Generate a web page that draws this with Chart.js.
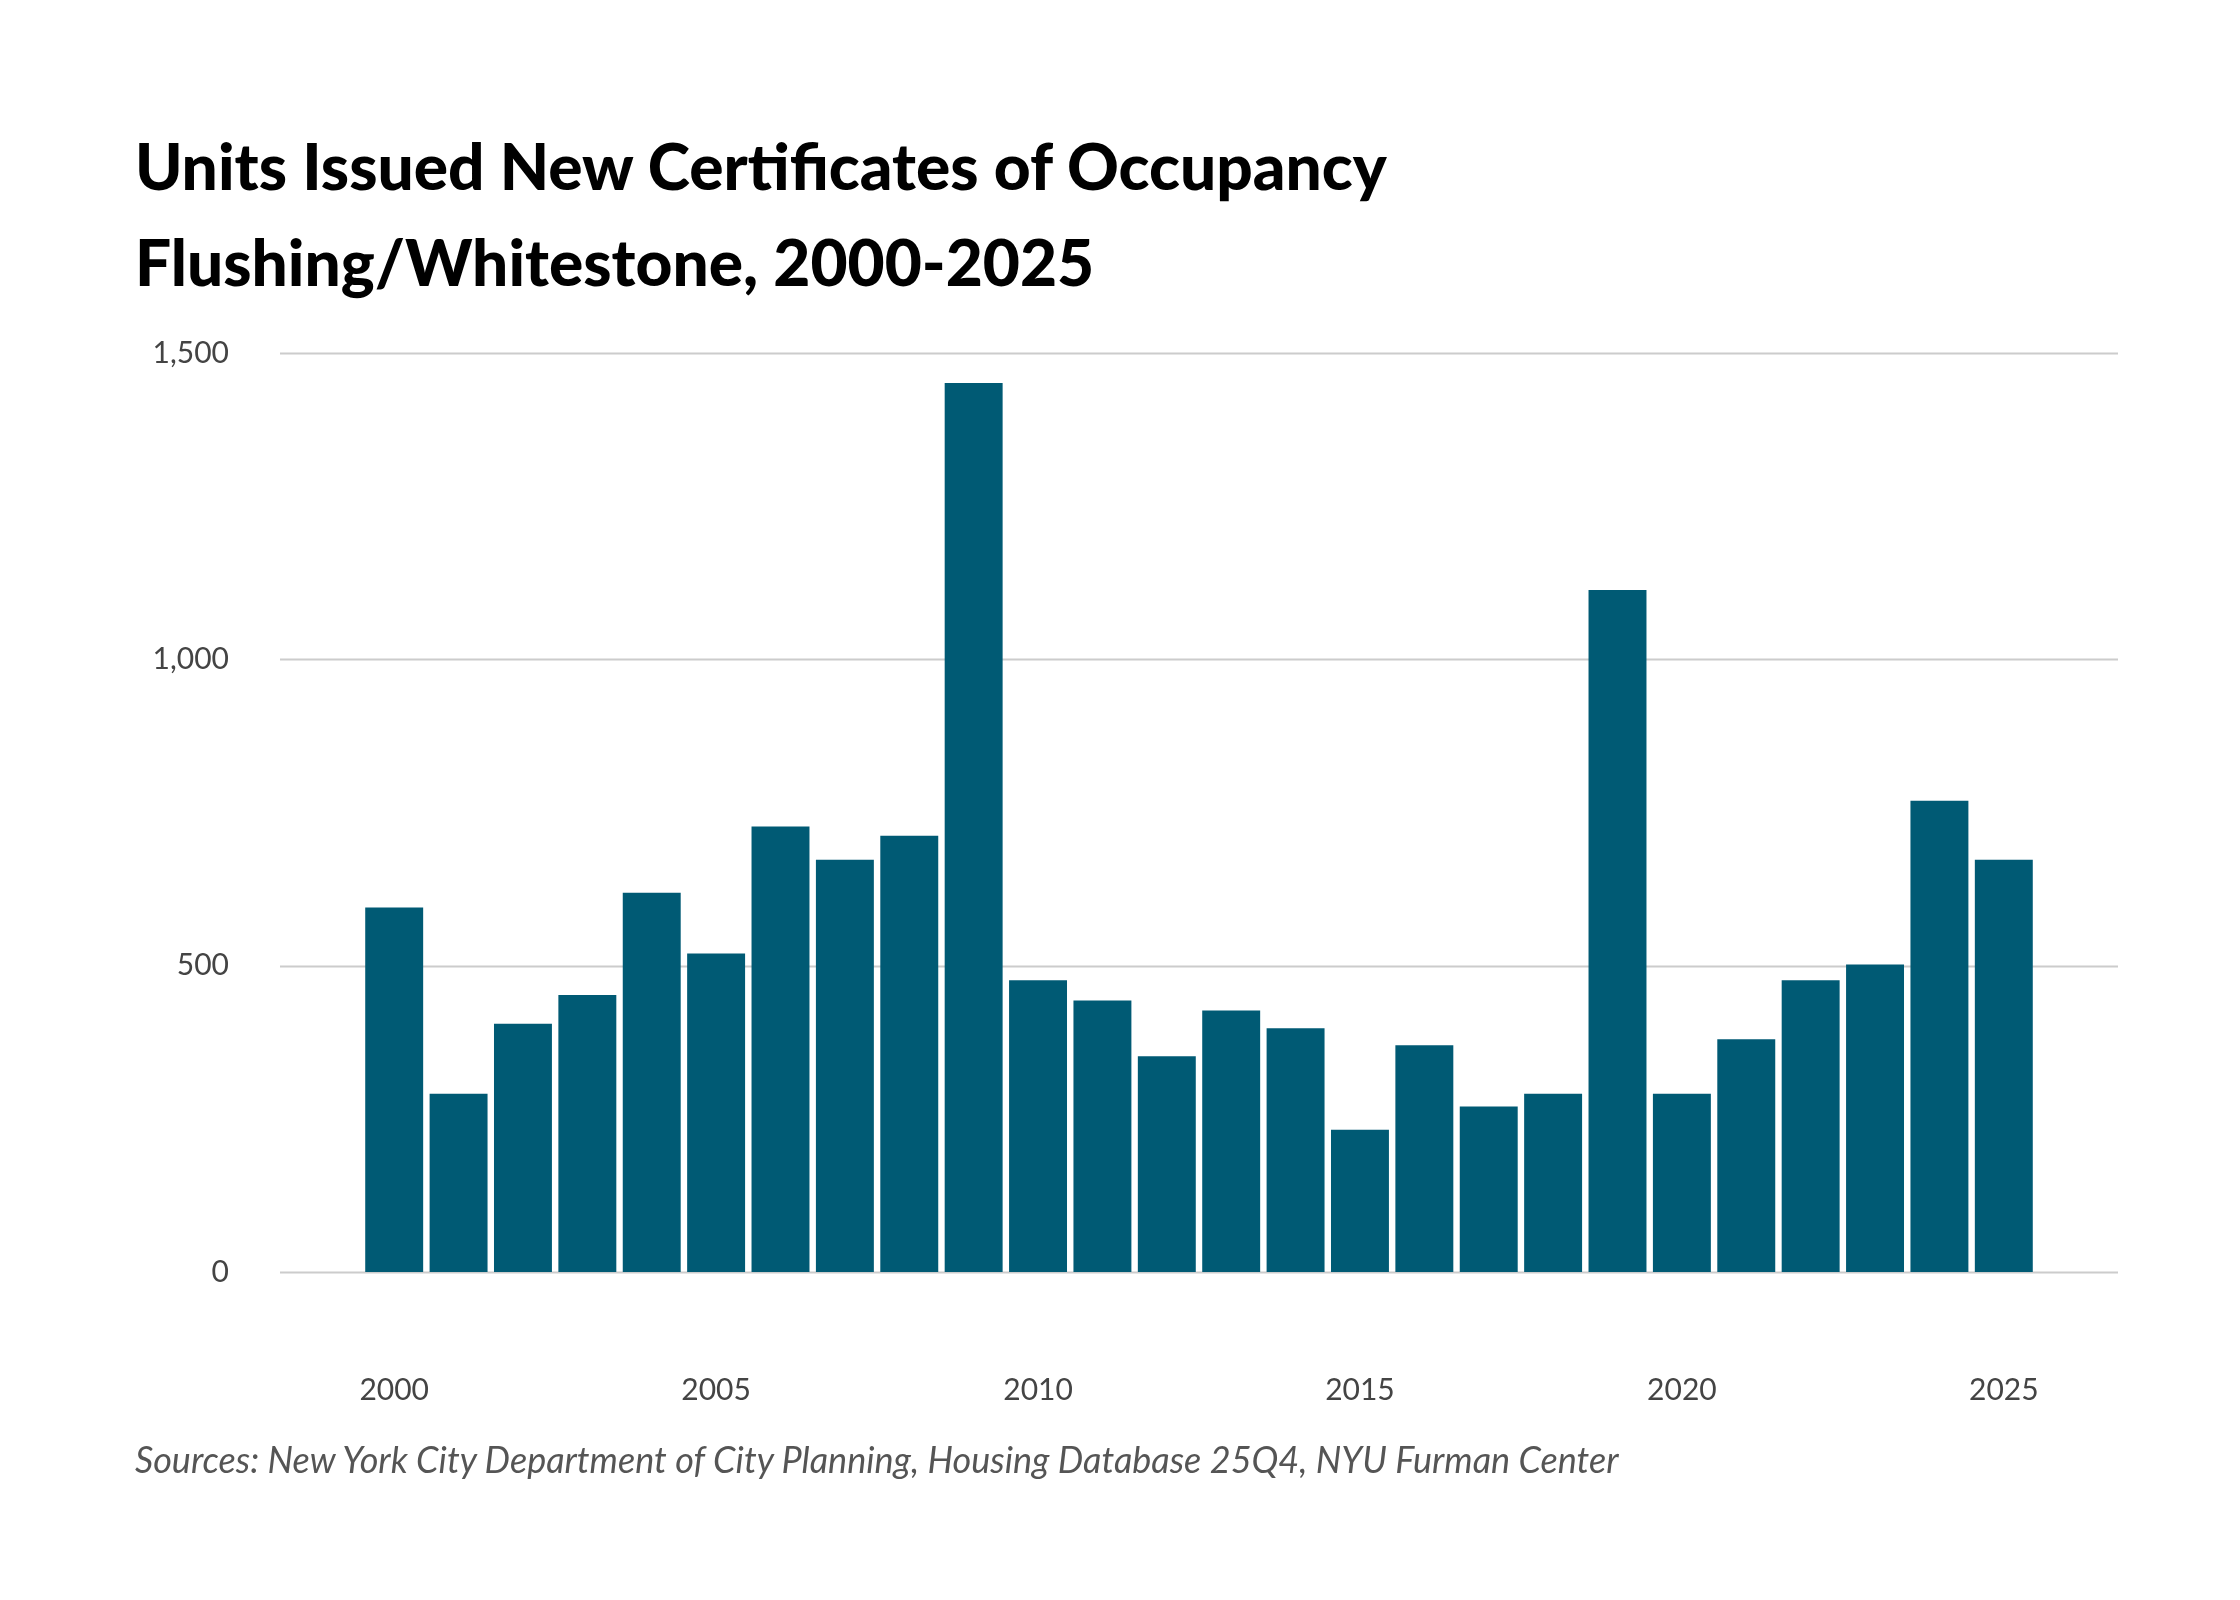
<!DOCTYPE html>
<html>
<head>
<meta charset="utf-8">
<script src="https://cdn.jsdelivr.net/npm/chart.js@4"></script>
<style>
  body { margin: 0; background: #fff; }
  #wrap { position: relative; width: 2240px; height: 1600px; }
  canvas { position: absolute; left: 0; top: 0; }
  .title { position: absolute; left: 135px; font-family: Lato, sans-serif; font-weight: 900; font-size: 64px; color: #000; line-height: 1; }
  #source { position: absolute; left: 135px; top: 1437px; font-family: Lato, sans-serif; font-style: italic; font-size: 36px; color: #555; }
</style>
</head>
<body>
<div id="wrap">
  <canvas id="myChart" width="2240" height="1600"></canvas>
  <div class="title" style="top:134px">Units Issued New Certificates of Occupancy</div>
  <div class="title" style="top:230px">Flushing/Whitestone, 2000-2025</div>
  <div id="source">Sources: New York City Department of City Planning, Housing Database 25Q4, NYU Furman Center</div>
</div>
<script>
// Years and units
const years = ["2000","2001","2002","2003","2004","2005","2006","2007","2008","2009","2010","2011","2012",
    "2013","2014","2015","2016","2017","2018","2019","2020","2021","2022","2023","2024","2025"];
const units = [595, 291, 405, 452, 619, 520, 727, 673, 712, 1451, 476, 443, 352,
    427, 398, 232, 370, 270, 291, 1113, 291, 380, 476, 502, 769, 673];
const yTicks = [0, 500, 1000, 1500];

// Gridlines run wider than the bars, so draw them by hand
const gridPlugin = {
    id: "wideGrid",
    beforeDatasetsDraw(chart) {
        const ctx = chart.ctx;
        const y = chart.scales.y;
        ctx.save();
        ctx.strokeStyle = "#cccccc";
        ctx.lineWidth = 2;
        yTicks.forEach(v => {
            const py = Math.round(y.getPixelForValue(v)) + 0.5;
            ctx.beginPath();
            ctx.moveTo(280, py);
            ctx.lineTo(2118, py);
            ctx.stroke();
        });
        ctx.restore();
    }
};

window.onload = function() {
    const ctx = document.getElementById("myChart");
    new Chart(ctx, {
        type: "bar",
        data: {
            labels: years,
            datasets: [{ data: units, backgroundColor: "#005a74", barPercentage: 0.9, categoryPercentage: 1.0 }]
        },
        options: {
            responsive: false,
            animation: false,
            layout: { padding: { top: 353, right: 204, left: 0, bottom: 0 } },
            plugins: { legend: { display: false }, tooltip: { enabled: false } },
            scales: {
                x: {
                    grid: { display: false },
                    border: { display: false },
                    afterFit: (s) => { s.height = 328; },
                    ticks: {
                        autoSkip: false, maxRotation: 0, padding: 92,
                        color: "#444", font: { family: "Lato", size: 30 },
                        callback: function(v) { const l = years[v]; return (+l % 5 === 0) ? l : ""; }
                    }
                },
                y: {
                    min: 0, max: 1500,
                    grid: { display: false },
                    border: { display: false },
                    afterFit: (s) => { s.width = 362; },
                    ticks: {
                        stepSize: 500, padding: 125,
                        color: "#444", font: { family: "Lato", size: 30 },
                        callback: (v) => v.toLocaleString("en-US")
                    }
                }
            }
        },
        plugins: [gridPlugin]
    });
};
</script>
</body>
</html>
